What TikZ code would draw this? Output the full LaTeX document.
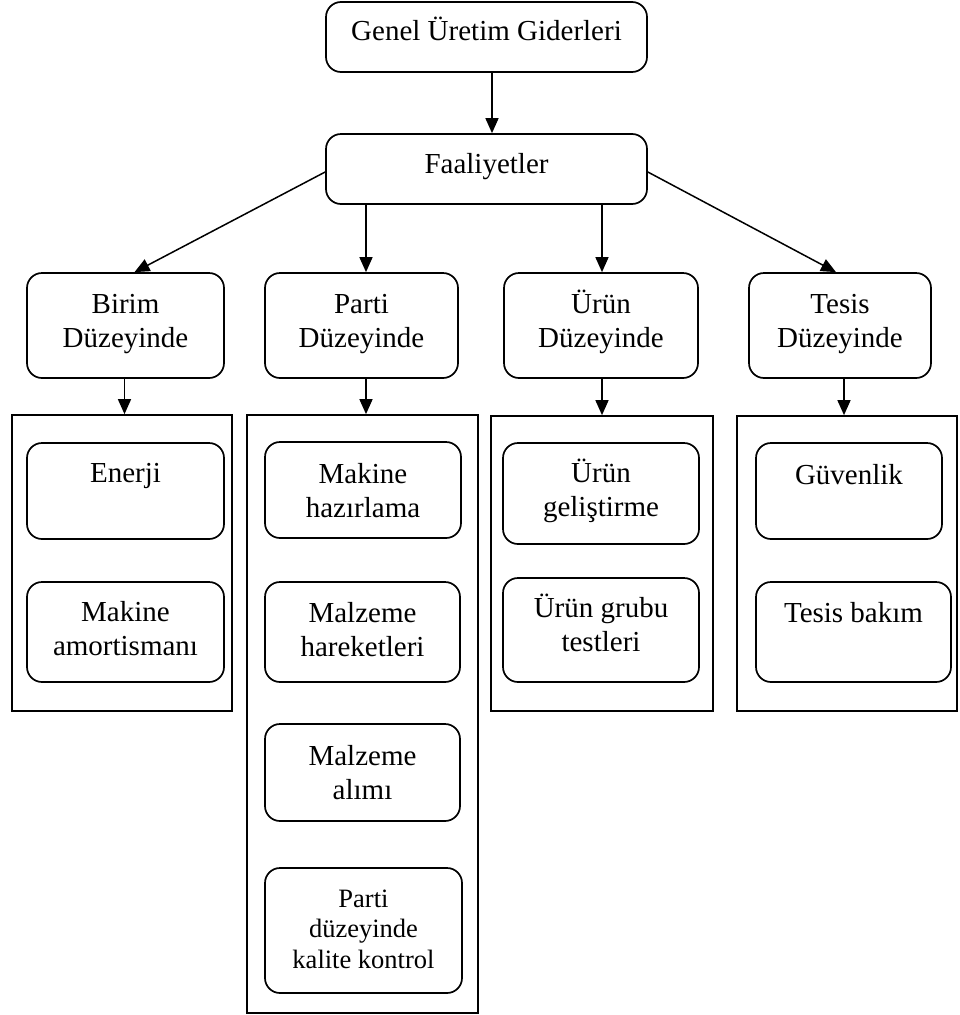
\documentclass[tikz,border=0pt]{standalone}
\usepackage{fontspec}
\setmainfont{Liberation Serif}
\usetikzlibrary{arrows.meta,calc,fit}

% strut that fixes the height of the first text line
\newcommand\firstline{\rule{0pt}{0.95em}}

\begin{document}
\begin{tikzpicture}[x=1pt,y=-1pt,
  rbox/.style={draw, line width=1.7pt, rounded corners=15pt, inner sep=0pt},
  frame/.style={draw, line width=1.7pt, inner sep=0pt},
  txt/.style={inner sep=0pt, align=center, anchor=north, font=\fontsize{29}{34}\selectfont},
  smalltxt/.style={font=\fontsize{26.5}{30.5}\selectfont},
  arr/.style={line width=1.5pt, -{Triangle[length=15pt,width=13pt]}}
]
\useasboundingbox (0,0) rectangle (960,1015);

% --- top levels
\node[rbox, fit={(326,2) (647,72)}] (gen) {};
\node[rbox, fit={(326,134) (647,204)}] (faal) {};
\node[txt] (genT) at ($(gen.north)+(0,11.5)$) {\firstline Genel Üretim Giderleri};
\node[txt] (faalT) at ($(faal.north)+(0,12.5)$) {\firstline Faaliyetler};

% --- activity levels
\node[rbox, fit={(27,273) (224,378)}] (birim) {};
\node[rbox, fit={(265,273) (458,378)}] (parti) {};
\node[rbox, fit={(504,273) (698,378)}] (urun) {};
\node[rbox, fit={(749,273) (931,378)}] (tesis) {};
\node[txt] (birimT) at ($(birim.north)+(0,13.5)$) {\firstline Birim\\Düzeyinde};
\node[txt] (partiT) at ($(parti.north)+(0,13.5)$) {\firstline Parti\\Düzeyinde};
\node[txt] (urunT) at ($(urun.north)+(0,13.5)$) {\firstline Ürün\\Düzeyinde};
\node[txt] (tesisT) at ($(tesis.north)+(0,13.5)$) {\firstline Tesis\\Düzeyinde};

% --- group frames
\node[frame, fit={(12,415) (232,711)}] (birimF) {};
\node[frame, fit={(247,415) (478,1013)}] (partiF) {};
\node[frame, fit={(491,416) (713,711)}] (urunF) {};
\node[frame, fit={(737,416) (957,711)}] (tesisF) {};

% --- unit level
\node[rbox, fit={(27,443) (224,539)}] (enerji) {};
\node[rbox, fit={(27,582) (224,682)}] (amort) {};
\node[txt] (enerjiT) at ($(enerji.north)+(0,12.5)$) {\firstline Enerji};
\node[txt] (amortT) at ($(amort.north)+(0,12.5)$) {\firstline Makine\\amortismanı};

% --- batch level
\node[rbox, fit={(265,442) (461,538)}] (hazir) {};
\node[rbox, fit={(265,582) (460,682)}] (hareket) {};
\node[rbox, fit={(265,724) (460,821)}] (alim) {};
\node[rbox, fit={(265,868) (462,993)}] (kalite) {};
\node[txt] (hazirT) at ($(hazir.north)+(0,14.5)$) {\firstline Makine\\hazırlama};
\node[txt] (hareketT) at ($(hareket.north)+(0,13.5)$) {\firstline Malzeme\\hareketleri};
\node[txt] (alimT) at ($(alim.north)+(0,14.5)$) {\firstline Malzeme\\alımı};
\node[txt, smalltxt] (kaliteT) at ($(kalite.north)+(0,14.8)$) {\firstline Parti\\düzeyinde\\kalite kontrol};

% --- product level
\node[rbox, fit={(503,443) (699,544)}] (gelis) {};
\node[rbox, fit={(503,578) (699,682)}] (test) {};
\node[txt] (gelisT) at ($(gelis.north)+(0,12.5)$) {\firstline Ürün\\geliştirme};
\node[txt] (testT) at ($(test.north)+(0,12.5)$) {\firstline Ürün grubu\\testleri};

% --- facility level
\node[rbox, fit={(756,443) (942,539)}] (guven) {};
\node[rbox, fit={(756,582) (951,682)}] (bakim) {};
\node[txt] (guvenT) at ($(guven.north)+(0,14.5)$) {\firstline Güvenlik};
\node[txt] (bakimT) at ($(bakim.north)+(0,13.5)$) {\firstline Tesis bakım};

% --- connectors
\draw[arr] ($(gen.south)+(5.5,0)$) -- ($(faal.north)+(5.5,0)$);
\draw[arr] ($(faal.west)+(0,3)$) -- ($(birim.north)+(9,0)$);
\draw[arr] ($(faal.south)+(-120.5,0)$) -- ($(parti.north)+(4.5,0)$);
\draw[arr] ($(faal.south)+(115.5,0)$) -- ($(urun.north)+(1,0)$);
\draw[arr] ($(faal.east)+(0,3)$) -- ($(tesis.north)+(-4,0)$);

\draw[arr] ($(birim.south)+(-1,0)$) -- (birimF.north -| {$(birim.south)+(-1,0)$});
\draw[arr] ($(parti.south)+(4.5,0)$) -- (partiF.north -| {$(parti.south)+(4.5,0)$});
\draw[arr] ($(urun.south)+(1,0)$) -- (urunF.north -| {$(urun.south)+(1,0)$});
\draw[arr] ($(tesis.south)+(4,0)$) -- (tesisF.north -| {$(tesis.south)+(4,0)$});
\end{tikzpicture}
\end{document}
